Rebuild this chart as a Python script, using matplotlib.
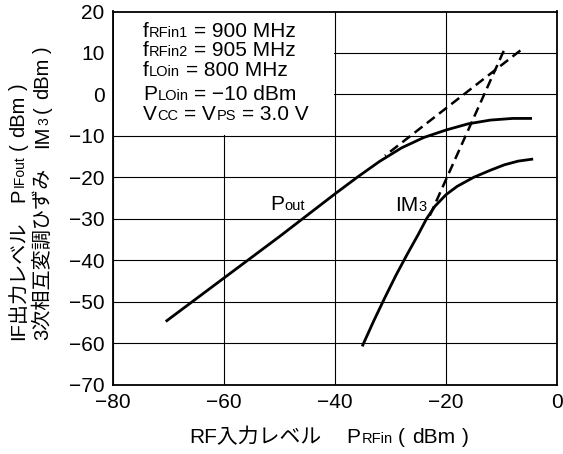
import numpy as np
import matplotlib
matplotlib.use('Agg')
import matplotlib.pyplot as plt
from matplotlib.transforms import IdentityTransform
from matplotlib.font_manager import FontProperties
from matplotlib.patches import Rectangle

FAM = ['Liberation Sans', 'Noto Sans CJK JP']
plt.rcParams['font.family'] = FAM

# ---------------- data ----------------
pout_x = [-70.5, -60, -50, -40, -36, -32, -28, -24, -20, -16, -12, -8, -4.5]
pout_y = [-54.8, -44.3, -34.3, -24.0, -20.0, -16.2, -12.9, -10.4, -8.6, -7.1, -6.2, -5.8, -5.8]

im3_x = [-35.1, -33, -31, -29, -27, -25, -23.5, -22, -20, -18, -15, -12, -9.5, -7, -4.3]
im3_y = [-60.8, -54.6, -49.0, -43.6, -38.6, -33.8, -30.0, -27.0, -24.2, -22.2, -20.0, -18.3, -17.0, -16.1, -15.6]

# extrapolation lines (listed from their upper end)
pout_ext_x = [-6.6, -31.0]
pout_ext_y = [10.6, -14.8]
im3_ext_x = [-9.6, -23.0]
im3_ext_y = [10.5, -29.5]

xticks = [-80, -60, -40, -20, 0]
yticks = [-70, -60, -50, -40, -30, -20, -10, 0, 10, 20]

# ---------------- figure ----------------
W, H = 563, 454
fig = plt.figure(figsize=(W / 100, H / 100), dpi=100)
ax = fig.add_axes([113 / W, 1 - 384.5 / H, 444 / W, 373 / H])
ax.set_xlim(-80, 0)
ax.set_ylim(-70, 20)
ax.set_xticks(xticks)
ax.set_yticks(yticks)
ax.grid(True, color='black', lw=0.8)
ax.tick_params(length=0, labelsize=15)
ax.tick_params(axis='y', pad=6)
ax.tick_params(axis='x', pad=6)
for s in ax.spines.values():
    s.set_linewidth(1.3)

# white area behind the condition text
ax.add_patch(Rectangle((-79.9, -9.8), 39.75, 29.7, facecolor='white',
                       edgecolor='none', zorder=1.8))

ax.plot(pout_x, pout_y, color='black', lw=2.0, zorder=3, solid_capstyle='butt')
ax.plot(im3_x, im3_y, color='black', lw=2.0, zorder=3, solid_capstyle='butt')
ax.plot(pout_ext_x, pout_ext_y, color='black', lw=1.8, dashes=(4, 2.2), zorder=3)
ax.plot(im3_ext_x, im3_ext_y, color='black', lw=1.8, dashes=(4, 2.2), zorder=3)

R = fig.canvas.get_renderer()


def measure(s, size):
    fp = FontProperties(family=FAM, size=size)
    w, h, d = R.get_text_width_height_descent(s, fp, ismath=False)
    return w


def rich(x, y, pieces, rotation=0, align='left'):
    """x, y: display pixels of baseline start."""
    total = sum(p if isinstance(p, (int, float)) else measure(*p) for p in pieces)
    pos = 0.0 if align == 'left' else -total / 2
    ang = np.deg2rad(rotation)
    ux, uy = np.cos(ang), np.sin(ang)
    for p in pieces:
        if isinstance(p, (int, float)):
            pos += p
            continue
        s, size = p
        fig.text(x + pos * ux, y + pos * uy, s, fontsize=size, family=FAM,
                 rotation=rotation, rotation_mode='anchor', ha='left',
                 va='baseline', transform=IdentityTransform(), zorder=5)
        pos += measure(s, size)


BIG, SUB = 15, 10.5

# condition text (image pixel coordinates: x, baseline y from top)
cond = [
    [("f", BIG), 0.5, ("RFin1", SUB), 6, ("= 900 MHz", BIG)],
    [("f", BIG), 0.5, ("RFin2", SUB), 6, ("= 905 MHz", BIG)],
    [("f", BIG), 0.5, ("LOin", SUB), 6, ("= 800 MHz", BIG)],
    [("P", BIG), 0.5, ("LOin", SUB), 6, ("= \u221210 dBm", BIG)],
    [("V", BIG), 0.5, ("CC", SUB), 6, ("= V", BIG), 0.5, ("PS", SUB), 6, ("= 3.0 V", BIG)],
]
base_y = [36.7, 56, 76, 99.5, 120]
for pieces, by in zip(cond, base_y):
    rich(143, H - by, pieces)

# curve labels (data coords)
px, py = ax.transData.transform((-51.7, -28.0))
rich(px, py, [("P", BIG), 0.5, ("out", SUB)])
px, py = ax.transData.transform((-29.2, -28.1))
rich(px, py, [("IM", BIG), 0, ("3", SUB)])

# x label
rich(329, H - 442.7, [("RF入力レベル", BIG), 24, ("P", BIG), 1.5, ("RFin", SUB), 5,
                      ("(", BIG), 8, ("dBm", BIG), 6, (")", BIG)], align='center')

# y label (two rotated lines)
YB, YS = 14.5, 10
rich(24, H - 340, [("IF出力レベル", YB), 20, ("P", YB), 1, ("IFout", YS), 5,
                   ("(", YB), 7, ("dBm", YB), 5, (")", YB)], rotation=90)
rich(48, H - 340, [("3次相互変調ひずみ", YB), 20, ("IM", YB), 0, ("3", YS), 5,
                   ("(", YB), 7, ("dBm", YB), 5, (")", YB)], rotation=90)

fig.savefig('out.png', dpi=100)
